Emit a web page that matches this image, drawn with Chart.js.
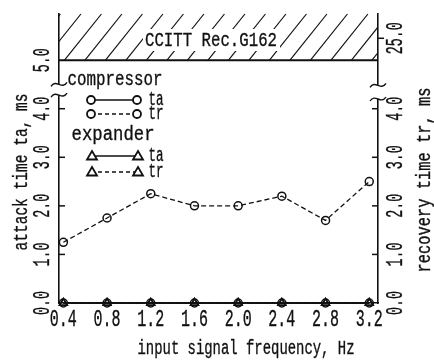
<!DOCTYPE html>
<html lang="en">
<head>
<meta charset="UTF-8">
<title>attack / recovery time</title>
<script src="https://cdn.jsdelivr.net/npm/chart.js"></script>
<style>
    body { margin: 0; background: #fff; overflow: hidden; }
    #wrap { width: 434px; height: 362px; }
</style>
</head>
<body>
<div id="wrap"><canvas id="chart" width="434" height="362"></canvas></div>
<script>
// data
var freq = [0.4, 0.8, 1.2, 1.6, 2.0, 2.4, 2.8, 3.2];
var compTa = [0, 0, 0, 0, 0, 0, 0, 0];
var compTr = [1.25, 1.75, 2.25, 2.0, 2.0, 2.2, 1.7, 2.5];
var expTa = [0, 0, 0, 0, 0, 0, 0, 0];
var expTr = [0, 0, 0, 0, 0, 0, 0, 0];

var leftTicks = [0, 1, 2, 3, 4, 5];
var leftTickLabels = ["0.0", "1.0", "2.0", "3.0", "4.0", "5.0"];
// right axis is broken above 4.0, 25.0 sits inside the shaded band
var rightTicks = [0, 1, 2, 3, 4, 5.45];
var rightTickLabels = ["0.0", "1.0", "2.0", "3.0", "4.0", "25.0"];

var FONT = '"Liberation Mono", "DejaVu Sans Mono", monospace';
var INK = "#111";

function pts(ys) {
    return freq.map(function (x, i) { return { x: x, y: ys[i] }; });
}

// text squeezed to a given width (the original lettering is tall and narrow)
function fitText(ctx, s, cx, cy, w, size, rot) {
    ctx.save();
    ctx.font = size + "px " + FONT;
    var m = ctx.measureText(s).width;
    ctx.translate(cx, cy);
    ctx.rotate(rot || 0);
    ctx.scale(w / m, 1);
    ctx.textAlign = "center";
    ctx.textBaseline = "middle";
    ctx.fillStyle = INK;
    ctx.strokeStyle = INK;
    ctx.lineWidth = 0.35;
    ctx.setLineDash([]);
    ctx.fillText(s, 0, 0);
    ctx.strokeText(s, 0, 0);
    ctx.restore();
}

function circle(ctx, x, y) {
    ctx.beginPath();
    ctx.arc(x, y, 4, 0, Math.PI * 2);
    ctx.fillStyle = "#fff";
    ctx.fill();
    ctx.stroke();
}

function triangle(ctx, x, y) {
    ctx.beginPath();
    ctx.moveTo(x, y - 5);
    ctx.lineTo(x + 5, y + 3.5);
    ctx.lineTo(x - 5, y + 3.5);
    ctx.closePath();
    ctx.fillStyle = "#fff";
    ctx.fill();
    ctx.stroke();
}

function tilde(ctx, x, y) {
    ctx.beginPath();
    ctx.moveTo(x - 8, y + 2);
    ctx.bezierCurveTo(x - 3, y - 6, x + 3, y + 6, x + 8, y - 2);
    ctx.stroke();
}

var decor = {
    id: "decor",
    afterDraw: function (chart) {
        var ctx = chart.ctx;
        var a = chart.chartArea;
        var sx = chart.scales.x, sy = chart.scales.y, sy1 = chart.scales.y1;
        var y5 = sy.getPixelForValue(5);

        ctx.save();
        ctx.strokeStyle = INK;
        ctx.lineCap = "butt";

        // hatched band (CCITT limit)
        ctx.save();
        ctx.beginPath();
        ctx.rect(a.left, a.top - 1, a.right - a.left, y5 - a.top + 1);
        ctx.clip();
        ctx.lineWidth = 1.2;
        var h = y5 - a.top;
        for (var x0 = a.left - 60; x0 < a.right + 10; x0 += 20.5) {
            ctx.beginPath();
            ctx.moveTo(x0 + 4, y5);
            ctx.lineTo(x0 + 4 + h * 0.8, a.top);
            ctx.stroke();
        }
        ctx.restore();
        ctx.fillStyle = "#fff";
        ctx.fillRect(143, 29, 137, 22);
        fitText(ctx, "CCITT Rec.G162", 211, 40, 132, 21);
        ctx.lineWidth = 2;
        ctx.beginPath();
        ctx.moveTo(a.left, y5);
        ctx.lineTo(a.right, y5);
        ctx.stroke();

        // inner tick marks
        ctx.lineWidth = 1.5;
        sy.ticks.forEach(function (t) {
            if (t.value <= 0 || t.value >= 5) return;
            var p = sy.getPixelForValue(t.value);
            ctx.beginPath(); ctx.moveTo(a.left, p); ctx.lineTo(a.left + 6, p); ctx.stroke();
        });
        sy1.ticks.forEach(function (t) {
            if (t.value <= 0) return;
            var p = sy1.getPixelForValue(t.value);
            var d = t.value > 5 ? 6 : -6;
            ctx.beginPath(); ctx.moveTo(a.right, p); ctx.lineTo(a.right + d, p); ctx.stroke();
        });

        // axis breaks
        var lb = [sy.getPixelForValue(4.5), sy.getPixelForValue(4.28)];
        var rb = [sy1.getPixelForValue(4.48), sy1.getPixelForValue(4.2)];
        ctx.fillStyle = "#fff";
        ctx.fillRect(a.left - 2, lb[0], 4, lb[1] - lb[0]);
        ctx.fillRect(a.right - 2, rb[0], 4, rb[1] - rb[0]);
        ctx.lineWidth = 1.4;
        tilde(ctx, a.left, lb[0]); tilde(ctx, a.left, lb[1]);
        tilde(ctx, a.right, rb[0]); tilde(ctx, a.right, rb[1]);

        // tick labels
        sx.ticks.forEach(function (t) {
            fitText(ctx, t.value.toFixed(1), sx.getPixelForValue(t.value), 320, 27, 23);
        });
        sy.ticks.forEach(function (t, i) {
            fitText(ctx, leftTickLabels[i], 43, sy.getPixelForValue(t.value), 24, 23, -Math.PI / 2);
        });
        sy1.ticks.forEach(function (t, i) {
            var s = rightTickLabels[i];
            fitText(ctx, s, 396, sy1.getPixelForValue(t.value), s.length * 8, 23, -Math.PI / 2);
        });

        // axis titles
        fitText(ctx, "attack time ta, ms", 22, 172, 157, 20, -Math.PI / 2);
        fitText(ctx, "recovery time tr, ms", 425, 180, 185, 20, -Math.PI / 2);
        fitText(ctx, "input signal frequency, Hz", 246, 349, 217, 20);

        // legend
        fitText(ctx, "compressor", 68 + 47, 80, 95, 20);
        fitText(ctx, "expander", 72 + 41, 135, 83, 20);
        var rows = [
            { y: 100, tri: false, dash: false, t: "ta" },
            { y: 114, tri: false, dash: true, t: "tr" },
            { y: 156, tri: true, dash: false, t: "ta" },
            { y: 172, tri: true, dash: true, t: "tr" }
        ];
        rows.forEach(function (r) {
            ctx.lineWidth = 1.4;
            ctx.setLineDash(r.dash ? [4, 3] : []);
            ctx.beginPath(); ctx.moveTo(91, r.y); ctx.lineTo(137, r.y); ctx.stroke();
            ctx.setLineDash([]);
            ctx.lineWidth = 1.8;
            if (r.tri) { triangle(ctx, 92, r.y); triangle(ctx, 138, r.y); }
            else { circle(ctx, 91, r.y); circle(ctx, 137, r.y); }
            fitText(ctx, r.t, 156, r.y, 15, 20);
        });
        ctx.restore();
    }
};

function series(label, ys, axis, style, dash) {
    return {
        label: label,
        data: pts(ys),
        yAxisID: axis,
        borderColor: INK,
        borderWidth: 1.3,
        borderDash: dash ? [5, 3] : [],
        pointStyle: style,
        pointRadius: style === "triangle" ? 4.5 : 4,
        pointBorderWidth: 1.5,
        pointBackgroundColor: "rgba(255,255,255,0)",
        pointBorderColor: INK,
        fill: false,
        tension: 0,
        clip: false
    };
}

new Chart(document.getElementById("chart"), {
    type: "line",
    data: {
        datasets: [
            series("expander ta", expTa, "y", "triangle", false),
            series("expander tr", expTr, "y1", "triangle", true),
            series("compressor ta", compTa, "y", "circle", false),
            series("compressor tr", compTr, "y1", "circle", true)
        ]
    },
    options: {
        responsive: false,
        animation: false,
        devicePixelRatio: 1,
        layout: { padding: { top: 14, left: 0, right: 0, bottom: 0 } },
        plugins: { legend: { display: false }, tooltip: { enabled: false } },
        scales: {
            x: {
                type: "linear", min: 0.36, max: 3.28,
                afterBuildTicks: function (s) { s.ticks = freq.map(function (v) { return { value: v }; }); },
                afterFit: function (s) { s.height = 59; },
                ticks: { display: false },
                grid: { display: false },
                border: { color: INK, width: 1.6 }
            },
            y: {
                position: "left", min: 0, max: 5.95,
                afterBuildTicks: function (s) { s.ticks = leftTicks.map(function (v) { return { value: v }; }); },
                afterFit: function (s) { s.width = 59; },
                ticks: { display: false },
                grid: { display: false },
                border: { color: INK, width: 1.6 }
            },
            y1: {
                position: "right", min: 0, max: 5.95,
                afterBuildTicks: function (s) { s.ticks = rightTicks.map(function (v) { return { value: v }; }); },
                afterFit: function (s) { s.width = 56; },
                ticks: { display: false },
                grid: { display: false },
                border: { color: INK, width: 1.6 }
            }
        }
    },
    plugins: [decor]
});
</script>
</body>
</html>
